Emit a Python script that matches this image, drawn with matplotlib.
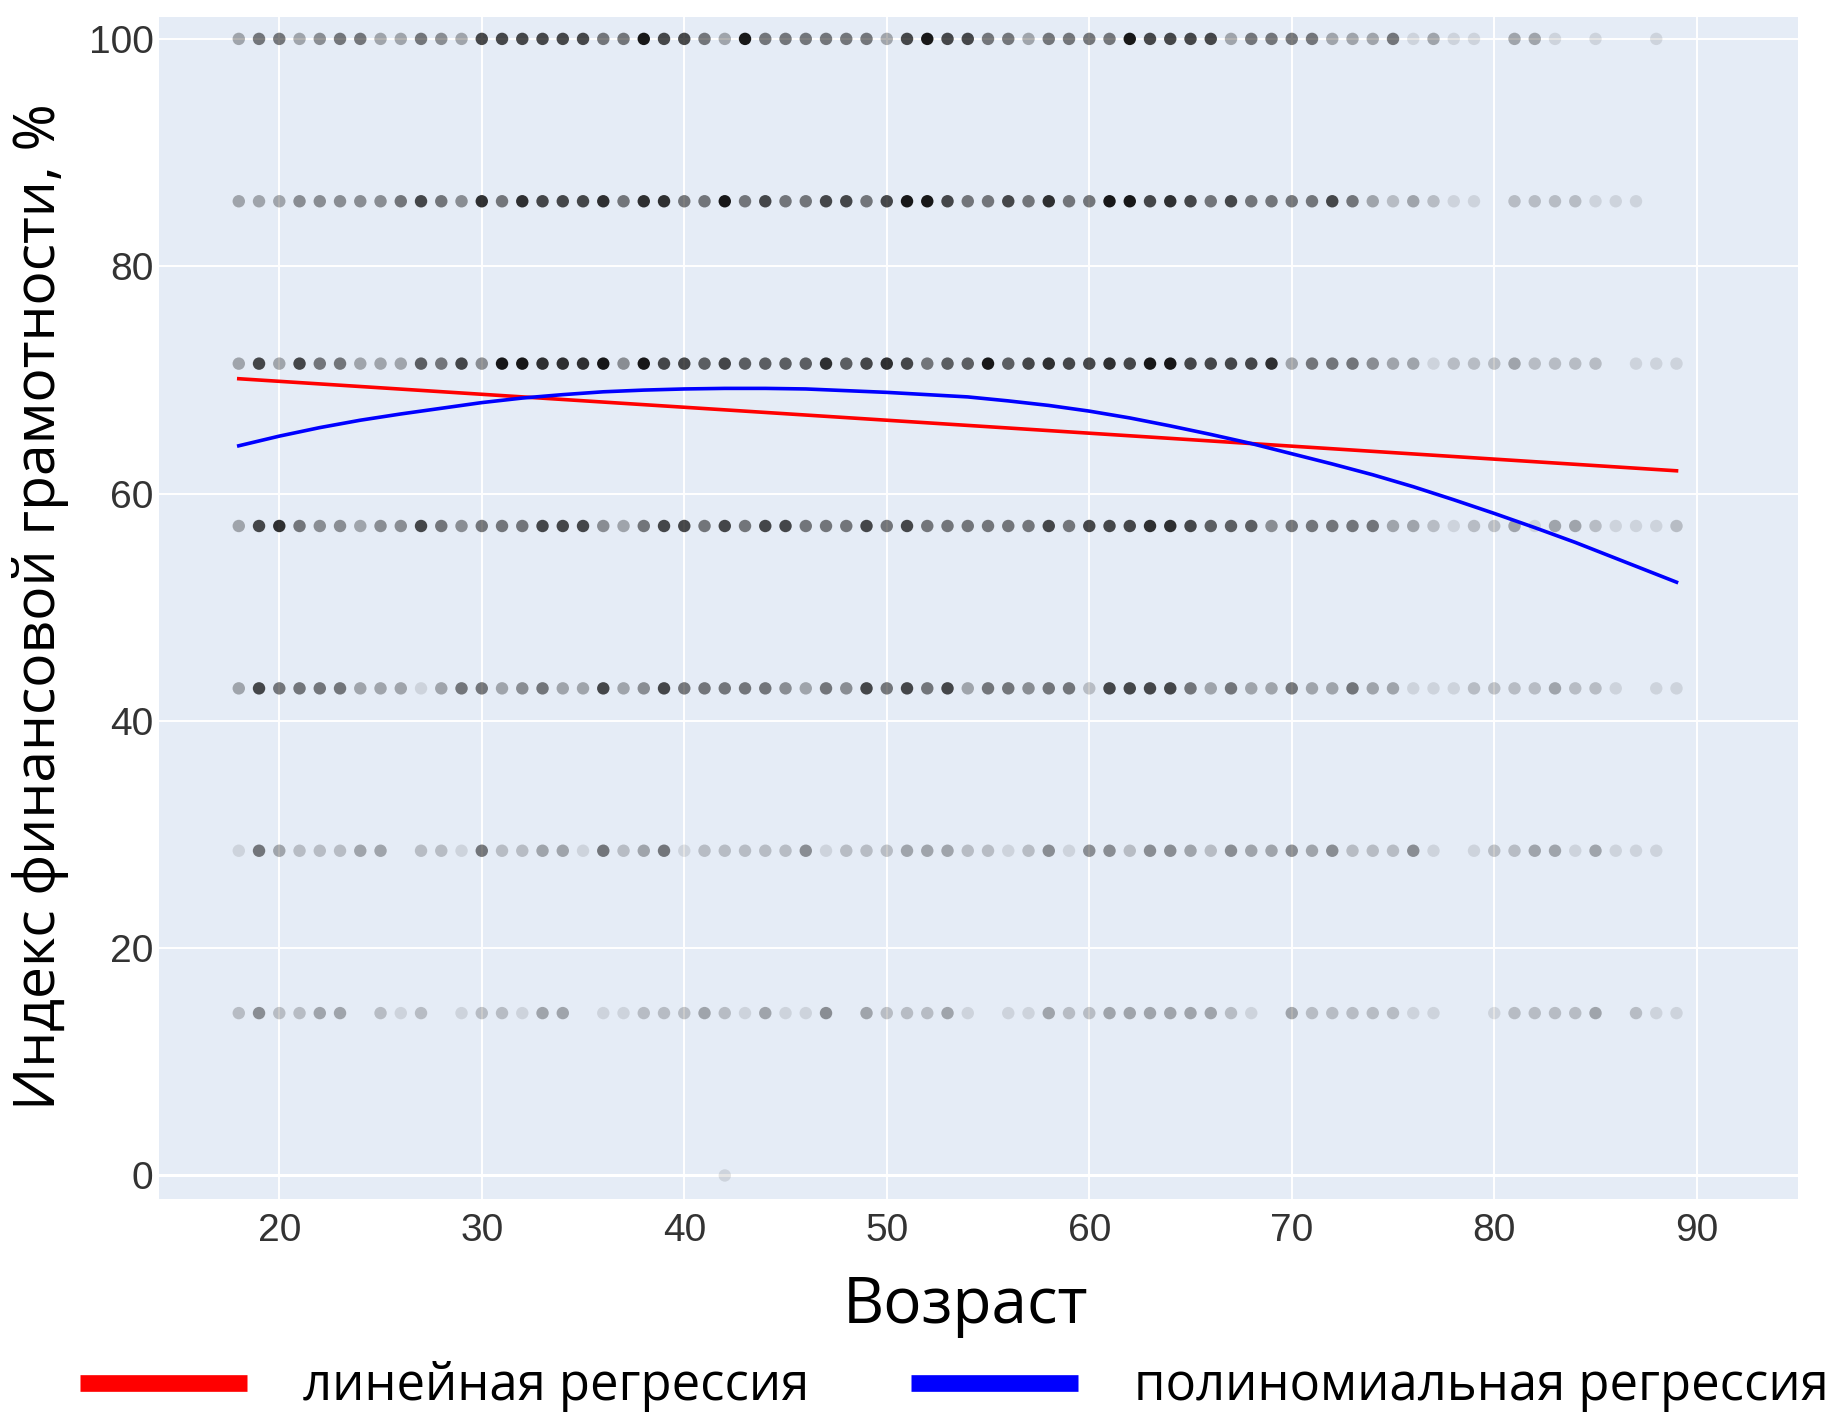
import numpy as np
import matplotlib
matplotlib.use("Agg")
import matplotlib.pyplot as plt
from matplotlib.lines import Line2D

# respondents' ages on the x axis
ages = np.arange(18, 90)

# index values (share of correct answers out of 7 questions)
score_levels = [100.0, 85.714, 71.429, 57.143, 42.857, 28.571, 14.286, 0.0]

# density of answers per (age, score) cell, 0 = none, 9 = most
dens_100 = [3, 5, 5, 3, 4, 5, 5, 3, 3, 5,
            4, 3, 7, 7, 7, 7, 7, 7, 5, 5,
            9, 7, 7, 5, 3, 9, 5, 5, 5, 5,
            5, 5, 3, 7, 9, 7, 7, 5, 5, 3,
            5, 5, 5, 5, 9, 7, 7, 7, 7, 3,
            5, 5, 5, 5, 3, 3, 3, 5, 1, 3,
            1, 1, 0, 3, 3, 1, 0, 1, 0, 0,
            1, 0]
dens_86 = [3, 3, 3, 4, 4, 4, 4, 4, 5, 7,
           5, 4, 8, 5, 8, 7, 7, 7, 8, 5,
           8, 8, 5, 5, 9, 5, 7, 5, 5, 7,
           7, 5, 7, 9, 9, 7, 5, 5, 7, 5,
           8, 5, 5, 9, 9, 7, 8, 7, 5, 7,
           5, 5, 5, 5, 7, 5, 3, 2, 3, 2,
           1, 1, 0, 2, 2, 2, 2, 1, 1, 1,
           0, 0]
dens_71 = [3, 7, 3, 7, 5, 5, 3, 3, 3, 6,
           5, 7, 4, 9, 9, 8, 8, 8, 9, 4,
           9, 7, 7, 6, 7, 6, 6, 6, 6, 8,
           6, 7, 8, 7, 5, 6, 6, 9, 6, 7,
           8, 7, 7, 8, 7, 9, 9, 7, 7, 7,
           7, 8, 3, 5, 5, 5, 4, 3, 3, 1,
           2, 2, 2, 3, 2, 2, 2, 2, 0, 1,
           1, 1]
dens_57 = [3, 7, 8, 5, 4, 4, 3, 4, 4, 7,
           5, 4, 5, 5, 5, 7, 7, 7, 4, 3,
           5, 7, 7, 5, 7, 5, 7, 7, 5, 5,
           5, 7, 5, 7, 5, 5, 5, 5, 5, 5,
           7, 5, 7, 7, 7, 8, 8, 7, 6, 6,
           6, 4, 5, 5, 5, 5, 5, 3, 3, 2,
           1, 2, 2, 3, 1, 3, 3, 2, 1, 1,
           1, 2]
dens_43 = [3, 7, 5, 5, 5, 5, 3, 3, 3, 1,
           3, 5, 5, 3, 4, 5, 3, 3, 7, 3,
           4, 7, 5, 5, 5, 5, 5, 4, 3, 5,
           4, 7, 5, 7, 5, 7, 3, 5, 5, 4,
           5, 5, 2, 7, 7, 7, 7, 5, 3, 5,
           3, 3, 5, 3, 3, 5, 3, 3, 1, 1,
           1, 2, 2, 2, 2, 3, 2, 2, 1, 0,
           1, 1]
dens_29 = [1, 5, 3, 2, 2, 2, 3, 3, 0, 2,
           2, 1, 5, 2, 2, 3, 3, 1, 5, 2,
           3, 5, 1, 2, 2, 2, 2, 2, 4, 1,
           2, 2, 2, 3, 3, 3, 2, 2, 1, 2,
           4, 1, 4, 4, 2, 4, 4, 3, 2, 4,
           3, 3, 4, 3, 4, 2, 2, 2, 4, 1,
           0, 1, 2, 2, 3, 3, 1, 3, 1, 1,
           1, 0]
dens_14 = [2, 4, 2, 2, 3, 3, 0, 2, 1, 2,
           0, 1, 2, 2, 1, 3, 3, 0, 1, 1,
           2, 2, 2, 3, 2, 1, 3, 1, 1, 4,
           0, 3, 2, 2, 2, 3, 1, 0, 1, 1,
           3, 2, 2, 3, 3, 3, 3, 3, 3, 2,
           1, 0, 3, 2, 2, 2, 2, 2, 1, 1,
           0, 0, 1, 2, 2, 2, 2, 3, 0, 2,
           1, 1]
dens_0 = [0] * 24 + [1] + [0] * 47

densities = [dens_100, dens_86, dens_71, dens_57, dens_43, dens_29, dens_14, dens_0]

# fitted regression curves
lin_ages = [18, 89]
lin_vals = [70.1, 62.0]
poly_ages = [18, 20, 22, 24, 26, 28, 30, 32, 34, 36, 38, 40, 42, 44, 46, 48, 50, 52,
             54, 56, 58, 60, 62, 64, 66, 68, 70, 72, 74, 76, 78, 80, 82, 84, 86, 88, 89]
poly_vals = [64.2, 65.05, 65.8, 66.45, 67.0, 67.5, 68.0, 68.4, 68.7, 68.95, 69.1, 69.2,
             69.25, 69.25, 69.2, 69.05, 68.9, 68.7, 68.5, 68.15, 67.75, 67.25, 66.65, 65.95,
             65.2, 64.4, 63.5, 62.6, 61.65, 60.6, 59.45, 58.25, 57.0, 55.7, 54.3, 52.9, 52.2]

W, H = 1849, 1413
fig = plt.figure(figsize=(W / 100, H / 100), dpi=100)
fig.patch.set_facecolor("white")

left, right, top, bottom = 159, 1798, 16.5, 1199
ax = fig.add_axes([left / W, 1 - bottom / H, (right - left) / W, (bottom - top) / H])
ax.set_facecolor("#E5ECF6")
for s in ax.spines.values():
    s.set_visible(False)

ax.set_xlim(14.06, 95.0)
ax.set_ylim(-2.07, 101.97)
ax.set_xticks(range(20, 91, 10))
ax.set_yticks(range(0, 101, 20))
ax.grid(True, color="white", linewidth=1.4)
ax.axhline(0, color="white", linewidth=2.2, zorder=0.6)
ax.set_axisbelow(True)

ax.tick_params(length=0)
ax.tick_params(axis="y", pad=4)
ax.tick_params(axis="x", pad=10)
for lab in ax.get_xticklabels() + ax.get_yticklabels():
    lab.set_fontfamily("Liberation Sans")
    lab.set_fontsize(28)
    lab.set_color("#333333")

# the dots: one row per score level, shade by density
for yv, dens in zip(score_levels, densities):
    d = np.array(dens, dtype=float)
    keep = d > 0
    cols = np.zeros((keep.sum(), 4))
    cols[:, 3] = np.clip(d[keep] / 10.0, 0, 0.95)
    ax.scatter(ages[keep], np.full(keep.sum(), yv), s=80, c=cols,
               edgecolors="none", zorder=2)

ax.plot(lin_ages, lin_vals, color="#FF0000", linewidth=2.6, zorder=3)
ax.plot(poly_ages, poly_vals, color="#0000FF", linewidth=2.6, zorder=3)

label_font = "Open Sans"
fig.text(966 / W, 1 - 1306 / H, "Возраст", fontfamily=label_font, fontsize=46,
         ha="center", va="center", color="black")
fig.text(41 / W, 1 - 607 / H, "Индекс финансовой грамотности, %", fontfamily=label_font,
         fontsize=41, rotation=90, ha="center", va="center", color="black")

handles = [Line2D([], [], color="#FF0000", linewidth=12, solid_capstyle="butt"),
           Line2D([], [], color="#0000FF", linewidth=12, solid_capstyle="butt")]
fig.legend(handles, ["линейная регрессия", "полиномиальная регрессия"],
           loc="center left", bbox_to_anchor=(80 / W, 26 / H), ncol=2,
           frameon=False, borderpad=0, borderaxespad=0,
           handlelength=3.3, handletextpad=1.1, columnspacing=2.0,
           prop={"family": label_font, "size": 36.5})

fig.savefig("out.png", dpi=100)
